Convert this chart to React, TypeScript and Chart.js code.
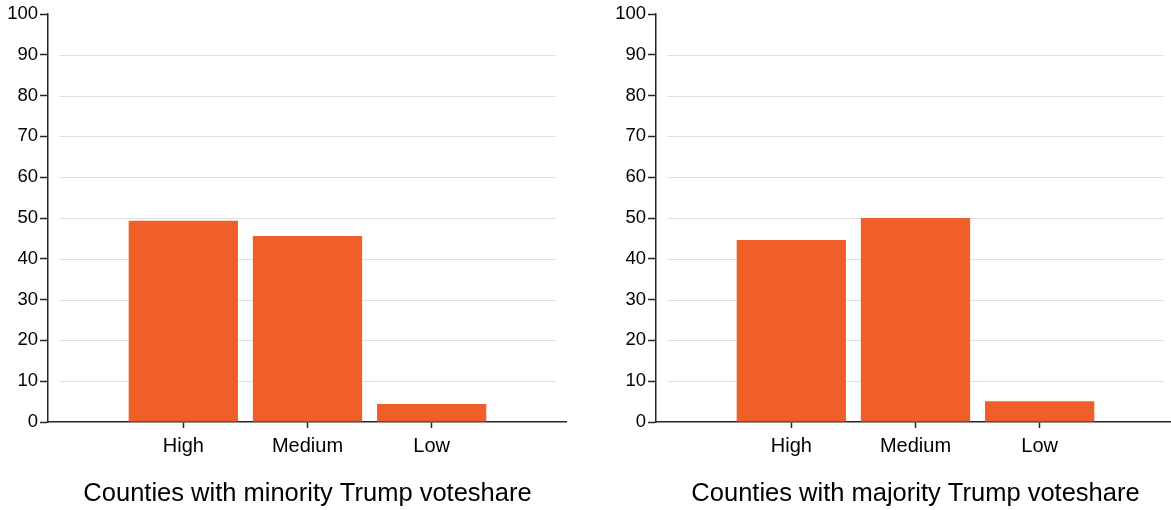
import React, { useEffect, useRef } from "react";
import { Chart, registerables } from "chart.js";

Chart.register(...registerables);

const CATEGORIES = ["High", "Medium", "Low"];
const MINORITY_VALUES = [49.3, 45.6, 4.4];
const MAJORITY_VALUES = [44.6, 50.0, 5.1];
const Y_MIN = 0;
const Y_MAX = 100;
const Y_STEP = 10;
const PANEL_TITLES = [
  "Counties with minority Trump voteshare",
  "Counties with majority Trump voteshare",
];

const BAR_COLOR = "#F05F27";
const AXIS_COLOR = "#262626";
const GRID_COLOR = "#e0e0e0";
const FONT_FAMILY = "'Liberation Sans', Arial, sans-serif";

const offsetGridPlugin = {
  id: "offsetGrid",
  beforeDatasetsDraw(chart: any) {
    const { ctx, scales } = chart;
    const x = scales.x;
    const y = scales.y;
    const x0 = x.getPixelForValue(0);
    const x1 = x.getPixelForValue(CATEGORIES.length + 1);
    ctx.save();
    ctx.strokeStyle = GRID_COLOR;
    ctx.lineWidth = 1;
    y.ticks.forEach((t: any) => {
      if (t.value <= y.min || t.value >= y.max) return;
      const py = Math.round(y.getPixelForValue(t.value)) + 0.5;
      ctx.beginPath();
      ctx.moveTo(x0, py);
      ctx.lineTo(x1, py);
      ctx.stroke();
    });
    ctx.restore();
  },
};

function Panel({ values, title, left }: { values: number[]; title: string; left: number }) {
  const ref = useRef<HTMLCanvasElement | null>(null);
  useEffect(() => {
    if (!ref.current) return;
    const chart = new Chart(ref.current, {
      type: "bar",
      data: {
        datasets: [
          {
            data: CATEGORIES.map((_, i) => ({ x: i + 1, y: values[i] })),
            backgroundColor: BAR_COLOR,
            borderWidth: 0,
            barPercentage: 0.88,
            categoryPercentage: 1,
          } as any,
        ],
      },
      options: {
        animation: false,
        responsive: false,
        maintainAspectRatio: false,
        layout: { padding: { top: 14, left: 0, right: 0, bottom: 0 } },
        plugins: {
          legend: { display: false },
          tooltip: { enabled: false },
          title: { display: false },
        },
        scales: {
          x: {
            type: "linear",
            offset: false,
            min: -0.09,
            max: CATEGORIES.length + 1.09,
            afterBuildTicks: (s: any) => {
              s.ticks = CATEGORIES.map((_, i) => ({ value: i + 1 }));
            },
            afterFit: (s: any) => {
              s.height = 88;
            },
            ticks: {
              autoSkip: false,
              maxRotation: 0,
              padding: 6,
              color: "#000",
              font: { family: FONT_FAMILY, size: 20 },
              callback: (v: any) => CATEGORIES[Number(v) - 1] ?? "",
            },
            grid: {
              offset: false,
              drawOnChartArea: false,
              drawTicks: true,
              tickLength: 6,
              tickColor: AXIS_COLOR,
              tickWidth: 1.5,
            },
            border: { display: true, color: AXIS_COLOR, width: 1.5 },
            title: {
              display: true,
              text: title,
              color: "#000",
              font: { family: FONT_FAMILY, size: 25.5 },
              padding: { top: 0, bottom: 1 },
            },
          },
          y: {
            min: Y_MIN,
            max: Y_MAX,
            afterFit: (s: any) => {
              s.width = 48;
            },
            ticks: {
              stepSize: Y_STEP,
              padding: 2,
              color: "#000",
              font: { family: FONT_FAMILY, size: 18.5 },
            },
            grid: {
              drawOnChartArea: false,
              drawTicks: true,
              tickLength: 8,
              tickColor: AXIS_COLOR,
              tickWidth: 1.5,
            },
            border: { display: true, color: AXIS_COLOR, width: 1.5 },
          },
        },
      } as any,
      plugins: [offsetGridPlugin],
    });
    return () => chart.destroy();
  }, [values, title]);
  return (
    <canvas
      ref={ref}
      width={567}
      height={510}
      style={{ position: "absolute", left, top: 0, width: 567, height: 510 }}
    />
  );
}

export default function App() {
  return (
    <div
      style={{
        position: "absolute",
        left: 0,
        top: 0,
        width: 1171,
        height: 510,
        overflow: "hidden",
        background: "#fff",
      }}
    >
      <Panel values={MINORITY_VALUES} title={PANEL_TITLES[0]} left={0} />
      <Panel values={MAJORITY_VALUES} title={PANEL_TITLES[1]} left={608} />
    </div>
  );
}
